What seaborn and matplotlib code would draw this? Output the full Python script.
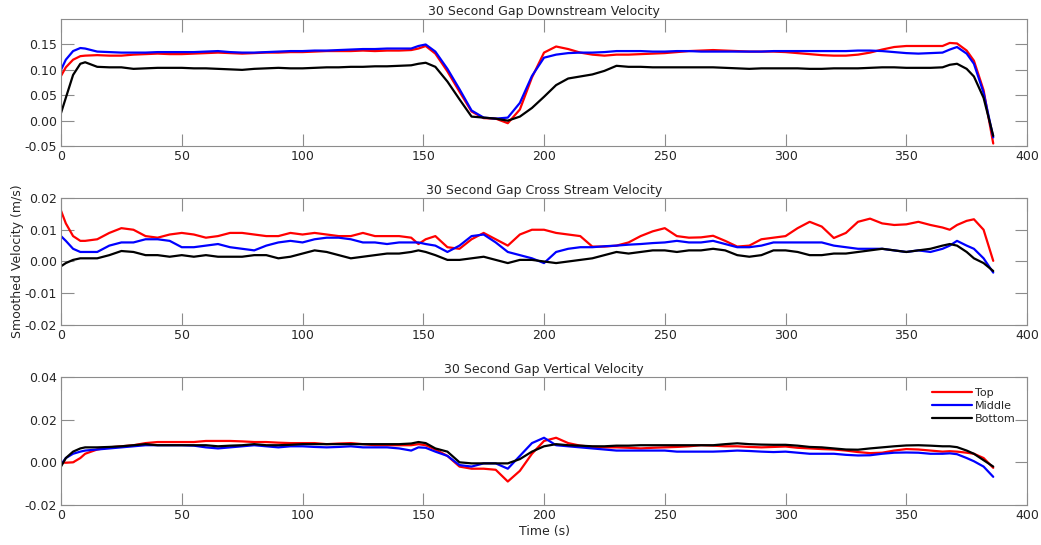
import numpy as np
import pandas as pd
import matplotlib
matplotlib.use("Agg")
import matplotlib.pyplot as plt
import seaborn as sns

# ---------------- data ----------------
time_s = [0, 2, 5, 8,
          10, 15, 20, 25, 30, 35, 40, 45, 50, 55,
          60, 65, 70, 75, 80, 85, 90, 95, 100, 105,
          110, 115, 120, 125, 130, 135, 140, 145, 148, 151,
          155, 160, 165, 170, 175, 180, 185, 190, 195, 200,
          205, 210, 215, 220, 225, 230, 235, 240, 245, 250,
          255, 260, 265, 270, 275, 280, 285, 290, 295, 300,
          305, 310, 315, 320, 325, 330, 335, 340, 345, 350,
          355, 360, 365, 368, 371, 375, 378, 382, 386]

down_top = [0.088, 0.105, 0.120, 0.127,
            0.128, 0.129, 0.128, 0.128, 0.130, 0.131, 0.132, 0.131, 0.131, 0.132,
            0.133, 0.134, 0.133, 0.132, 0.133, 0.134, 0.134, 0.135, 0.135, 0.136,
            0.137, 0.137, 0.137, 0.138, 0.137, 0.138, 0.138, 0.139, 0.142, 0.147,
            0.132, 0.097, 0.057, 0.018, 0.005, 0.004, -0.005, 0.022, 0.085, 0.134,
            0.146, 0.141, 0.134, 0.130, 0.128, 0.130, 0.130, 0.131, 0.132, 0.133,
            0.135, 0.137, 0.138, 0.139, 0.138, 0.137, 0.136, 0.136, 0.136, 0.135,
            0.133, 0.131, 0.129, 0.128, 0.128, 0.130, 0.134, 0.140, 0.145, 0.147,
            0.147, 0.147, 0.147, 0.153, 0.152, 0.138, 0.118, 0.060, -0.045]
down_mid = [0.100, 0.120, 0.137, 0.143,
            0.142, 0.136, 0.135, 0.134, 0.134, 0.134, 0.135, 0.135, 0.135, 0.135,
            0.136, 0.137, 0.135, 0.134, 0.134, 0.135, 0.136, 0.137, 0.137, 0.138,
            0.138, 0.139, 0.140, 0.141, 0.141, 0.142, 0.142, 0.142, 0.147, 0.150,
            0.136, 0.102, 0.062, 0.020, 0.006, 0.004, 0.006, 0.035, 0.088, 0.124,
            0.130, 0.133, 0.134, 0.134, 0.135, 0.137, 0.137, 0.137, 0.136, 0.136,
            0.137, 0.137, 0.136, 0.136, 0.136, 0.136, 0.136, 0.136, 0.137, 0.137,
            0.137, 0.137, 0.137, 0.137, 0.137, 0.138, 0.138, 0.137, 0.135, 0.133,
            0.132, 0.133, 0.134, 0.140, 0.145, 0.132, 0.112, 0.055, -0.033]
down_bot = [0.015, 0.045, 0.090, 0.112,
            0.115, 0.106, 0.105, 0.105, 0.102, 0.103, 0.104, 0.104, 0.104, 0.103,
            0.103, 0.102, 0.101, 0.100, 0.102, 0.103, 0.104, 0.103, 0.103, 0.104,
            0.105, 0.105, 0.106, 0.106, 0.107, 0.107, 0.108, 0.109, 0.112, 0.114,
            0.106, 0.077, 0.042, 0.008, 0.006, 0.004, 0.000, 0.008, 0.025, 0.047,
            0.070, 0.083, 0.087, 0.091, 0.098, 0.108, 0.106, 0.106, 0.105, 0.105,
            0.105, 0.105, 0.105, 0.105, 0.104, 0.103, 0.102, 0.103, 0.103, 0.103,
            0.103, 0.102, 0.102, 0.103, 0.103, 0.103, 0.104, 0.105, 0.105, 0.104,
            0.104, 0.104, 0.105, 0.110, 0.112, 0.102, 0.087, 0.045, -0.030]

cross_top = [0.016, 0.012, 0.008, 0.0065,
             0.0065, 0.007, 0.009, 0.0105, 0.010, 0.008, 0.0075, 0.0085, 0.009, 0.0085,
             0.0075, 0.008, 0.009, 0.009, 0.0085, 0.008, 0.008, 0.009, 0.0085, 0.009,
             0.0085, 0.008, 0.008, 0.009, 0.008, 0.008, 0.008, 0.0075, 0.0055, 0.007,
             0.008, 0.0045, 0.004, 0.007, 0.009, 0.007, 0.005, 0.0085, 0.010, 0.010,
             0.009, 0.0085, 0.008, 0.0047, 0.0047, 0.005, 0.006, 0.008, 0.0095, 0.0105,
             0.008, 0.0075, 0.0076, 0.0081, 0.0065, 0.0047, 0.005, 0.007, 0.0075, 0.008,
             0.0105, 0.0125, 0.011, 0.0074, 0.009, 0.0125, 0.0135, 0.012, 0.0115, 0.0117,
             0.0125, 0.0115, 0.0107, 0.010, 0.0115, 0.0128, 0.0133, 0.010, 0.0002]
cross_mid = [0.008, 0.0065, 0.004, 0.003,
             0.003, 0.003, 0.005, 0.006, 0.006, 0.007, 0.007, 0.0065, 0.0045, 0.0045,
             0.005, 0.0055, 0.0045, 0.004, 0.0035, 0.005, 0.006, 0.0065, 0.006, 0.007,
             0.0075, 0.0075, 0.007, 0.006, 0.006, 0.0055, 0.006, 0.006, 0.006, 0.0055,
             0.005, 0.003, 0.005, 0.008, 0.0085, 0.006, 0.003, 0.002, 0.001, -0.0005,
             0.003, 0.004, 0.0045, 0.0045, 0.0048, 0.005, 0.0053, 0.0055, 0.0058, 0.006,
             0.0065, 0.006, 0.006, 0.0065, 0.0055, 0.0045, 0.0045, 0.005, 0.006, 0.006,
             0.006, 0.006, 0.006, 0.005, 0.0045, 0.004, 0.004, 0.004, 0.0035, 0.003,
             0.0035, 0.003, 0.004, 0.005, 0.0065, 0.005, 0.004, 0.001, -0.0035]
cross_bot = [-0.0015, -0.0005, 0.0005, 0.001,
             0.001, 0.001, 0.002, 0.0033, 0.003, 0.002, 0.002, 0.0015, 0.002, 0.0015,
             0.002, 0.0015, 0.0015, 0.0015, 0.002, 0.002, 0.001, 0.0015, 0.0025, 0.0035,
             0.003, 0.002, 0.001, 0.0015, 0.002, 0.0025, 0.0025, 0.003, 0.0035, 0.003,
             0.002, 0.0005, 0.0005, 0.001, 0.0015, 0.0005, -0.0005, 0.0005, 0.0005, 0.0,
             -0.0005, 0.0, 0.0005, 0.001, 0.002, 0.003, 0.0025, 0.003, 0.0035, 0.0035,
             0.003, 0.0035, 0.0035, 0.004, 0.0035, 0.002, 0.0015, 0.002, 0.0035, 0.0035,
             0.003, 0.002, 0.002, 0.0025, 0.0025, 0.003, 0.0035, 0.004, 0.0035, 0.003,
             0.0035, 0.004, 0.005, 0.0055, 0.005, 0.003, 0.001, -0.0005, -0.003]

vert_top = [0.0, -0.0002, 0.0, 0.002,
            0.004, 0.006, 0.007, 0.0075, 0.008, 0.009, 0.0095, 0.0095, 0.0095, 0.0095,
            0.010, 0.010, 0.010, 0.0098, 0.0095, 0.0095, 0.0092, 0.009, 0.009, 0.009,
            0.0085, 0.0088, 0.009, 0.0085, 0.008, 0.008, 0.008, 0.008, 0.0085, 0.008,
            0.006, 0.003, -0.002, -0.003, -0.003, -0.0035, -0.009, -0.004, 0.004, 0.010,
            0.0115, 0.009, 0.0078, 0.0073, 0.007, 0.007, 0.0068, 0.0065, 0.0068, 0.007,
            0.0072, 0.0075, 0.008, 0.0078, 0.0075, 0.0075, 0.0072, 0.007, 0.0072, 0.0074,
            0.0068, 0.0065, 0.0062, 0.006, 0.0055, 0.0048, 0.0043, 0.0045, 0.0055, 0.0062,
            0.006, 0.0055, 0.005, 0.0052, 0.005, 0.0045, 0.004, 0.002, -0.0026]
vert_mid = [-0.001, 0.002, 0.004, 0.005,
            0.0055, 0.006, 0.0065, 0.007, 0.0075, 0.008, 0.008, 0.008, 0.008, 0.0078,
            0.007, 0.0065, 0.007, 0.0075, 0.008, 0.0075, 0.007, 0.0075, 0.0075, 0.0072,
            0.007, 0.0072, 0.0075, 0.007, 0.007, 0.007, 0.0065, 0.0055, 0.007, 0.0068,
            0.005, 0.003, -0.0013, -0.002, -0.0005, -0.0005, -0.003, 0.003, 0.009, 0.0115,
            0.008, 0.0075, 0.007, 0.0065, 0.006, 0.0055, 0.0055, 0.0055, 0.0055, 0.0055,
            0.005, 0.005, 0.005, 0.005, 0.0052, 0.0055, 0.0053, 0.005, 0.0048, 0.005,
            0.0045, 0.004, 0.004, 0.004, 0.0035, 0.0032, 0.0033, 0.004, 0.0045, 0.0046,
            0.0045, 0.004, 0.004, 0.0042, 0.0038, 0.002, 0.0005, -0.002, -0.0068]
vert_bot = [-0.002, 0.002, 0.005, 0.0065,
            0.007, 0.007, 0.0072, 0.0075, 0.008, 0.0085, 0.008, 0.008, 0.008, 0.008,
            0.008, 0.0075, 0.0078, 0.008, 0.0085, 0.008, 0.008, 0.0082, 0.0085, 0.0085,
            0.0085, 0.0085, 0.0085, 0.0085, 0.0085, 0.0085, 0.0085, 0.0088, 0.0095, 0.009,
            0.0065, 0.005, 0.0, -0.0005, -0.0005, -0.0005, -0.0005, 0.0015, 0.005, 0.0075,
            0.0085, 0.008, 0.0078, 0.0075, 0.0075, 0.0078, 0.0078, 0.008, 0.008, 0.008,
            0.008, 0.008, 0.008, 0.008, 0.0085, 0.0089, 0.0085, 0.0083, 0.0082, 0.0082,
            0.0078, 0.0072, 0.007, 0.0065, 0.006, 0.0059, 0.0065, 0.007, 0.0075, 0.0079,
            0.008, 0.0078, 0.0075, 0.0075, 0.0071, 0.0055, 0.004, 0.001, -0.002]

positions = ["Top", "Middle", "Bottom"]
titles = ["30 Second Gap Downstream Velocity",
          "30 Second Gap Cross Stream Velocity",
          "30 Second Gap Vertical Velocity"]
x_ticks = [0, 50, 100, 150, 200, 250, 300, 350, 400]
y_ticks = [[-0.05, 0.0, 0.05, 0.10, 0.15],
           [-0.02, -0.01, 0.0, 0.01, 0.02],
           [-0.02, 0.0, 0.02, 0.04]]
y_limits = [(-0.05, 0.20), (-0.02, 0.02), (-0.02, 0.04)]
panel_series = [[down_top, down_mid, down_bot],
                [cross_top, cross_mid, cross_bot],
                [vert_top, vert_mid, vert_bot]]

# ---------------- styling ----------------
sns.set_style("white")
plt.rcParams["font.family"] = ["DejaVu Sans"]
palette = {"Top": "#ff0000", "Middle": "#0000ff", "Bottom": "#000000"}
frame_col = "#8c8c8c"
text_col = "#262626"

fig = plt.figure(figsize=(10.41, 5.45), dpi=100)
axes_rects = [[0.0586, 0.732, 0.928, 0.233],
              [0.0586, 0.4037, 0.928, 0.233],
              [0.0586, 0.0734, 0.928, 0.235]]

for i, rect in enumerate(axes_rects):
    ax = fig.add_axes(rect)
    frames = []
    for pos, vals in zip(positions, panel_series[i]):
        frames.append(pd.DataFrame({"Time": time_s, "Velocity": vals, "Position": pos}))
    df = pd.concat(frames, ignore_index=True)
    sns.lineplot(data=df, x="Time", y="Velocity", hue="Position",
                 hue_order=positions, palette=palette, linewidth=1.6,
                 ax=ax, legend=(i == 2), estimator=None, sort=False)
    ax.set_xlim(0, 400)
    ax.set_ylim(*y_limits[i])
    ax.set_xticks(x_ticks)
    ax.set_xticklabels([str(v) for v in x_ticks])
    ax.set_yticks(y_ticks[i])
    ax.set_yticklabels([f"{v:.2f}" for v in y_ticks[i]])
    ax.tick_params(direction="in", length=9, width=0.8, color=frame_col,
                   labelsize=9, labelcolor=text_col, top=True, right=True,
                   bottom=True, left=True, pad=3)
    for sp in ax.spines.values():
        sp.set_color(frame_col)
        sp.set_linewidth(0.8)
        sp.set_visible(True)
    ax.set_title(titles[i], fontsize=9, color=text_col, pad=3)
    ax.set_xlabel("")
    ax.set_ylabel("")
    if i == 1:
        ax.set_ylabel("Smoothed Velocity (m/s)", fontsize=9, color=text_col, labelpad=0)
    if i == 2:
        ax.set_xlabel("Time (s)", fontsize=9, color=text_col, labelpad=2)
        leg = ax.legend(loc="upper right", frameon=False, fontsize=8,
                        handlelength=3.6, handletextpad=0.3, labelspacing=0.25,
                        borderaxespad=0.6)
        for t in leg.get_texts():
            t.set_color(text_col)

fig.savefig("out.png", dpi=100)
